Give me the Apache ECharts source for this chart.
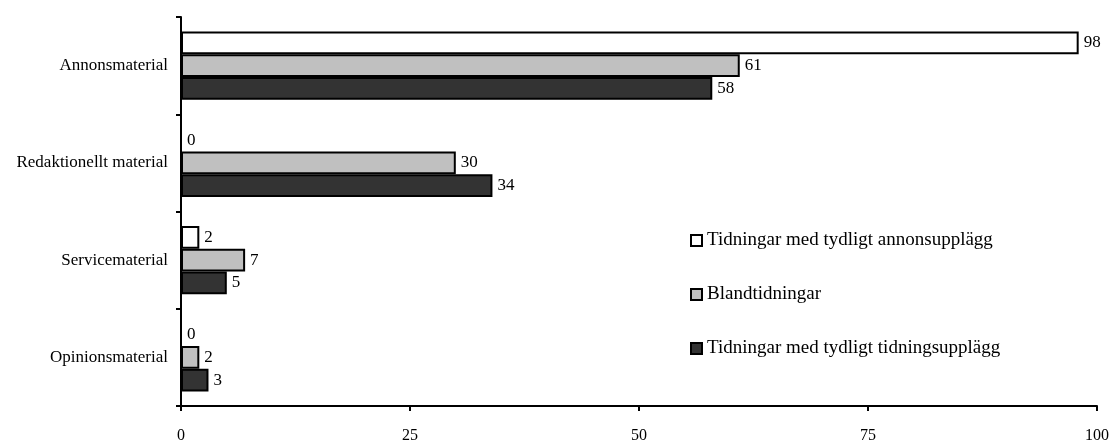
<!DOCTYPE html>
<html><head><meta charset="utf-8">
<script src="https://cdn.jsdelivr.net/npm/echarts@6/dist/echarts.min.js"></script>
<style>html,body{margin:0;padding:0;background:#fff}#c{width:1112px;height:444px}</style>
</head><body><div id="c"></div>
<script>
const categories = ['Annonsmaterial', 'Redaktionellt material', 'Servicematerial', 'Opinionsmaterial'];
const seriesNames = ['Tidningar med tydligt annonsupplägg', 'Blandtidningar', 'Tidningar med tydligt tidningsupplägg'];
const annonsupplagg = [98, 0, 2, 0];
const blandtidningar = [61, 30, 7, 2];
const tidningsupplagg = [58, 34, 5, 3];
const xTicks = [0, 25, 50, 75, 100];
const colors = ['#ffffff', '#c0c0c0', '#333333'];
const values = [annonsupplagg, blandtidningar, tidningsupplagg];

const font = '"Liberation Serif", "Times New Roman", serif';
const chart = echarts.init(document.getElementById('c'));
chart.setOption({
  animation: false,
  textStyle: { fontFamily: font },
  grid: { left: 181, right: 15, top: 17, bottom: 36, containLabel: false },
  legend: {
    orient: 'vertical', left: 685, top: 226,
    itemWidth: 11, itemHeight: 11, itemGap: 35,
    icon: 'rect',
    textStyle: { fontFamily: font, fontSize: 19, color: '#000', padding: [0,0,0,0] },
    data: seriesNames
  },
  xAxis: {
    type: 'value', min: 0, max: 100, interval: 25,
    axisLine: { show: true, lineStyle: { color: '#000', width: 2 } },
    axisTick: { show: true, length: 5, lineStyle: { color: '#000', width: 2 } },
    splitLine: { show: false },
    axisLabel: { fontFamily: font, fontSize: 16, color: '#000', margin: 22,
      formatter: v => xTicks.includes(v) ? String(v) : '' }
  },
  yAxis: {
    type: 'category', data: categories, inverse: true,
    axisLine: { show: true, lineStyle: { color: '#000', width: 2 } },
    axisTick: { show: true, length: 5, alignWithLabel: false, lineStyle: { color: '#000', width: 2 } },
    axisLabel: { fontFamily: font, fontSize: 17, color: '#000', margin: 13 }
  },
  series: values.map((d, i) => ({
    name: seriesNames[i], type: 'bar', data: d,
    barGap: '0%', barCategoryGap: '30%',
    itemStyle: { color: colors[i], borderColor: '#000', borderWidth: 2 },
    label: { show: true, position: 'right', distance: 5, fontFamily: font, fontSize: 17, color: '#000' }
  }))
});
</script></body></html>
